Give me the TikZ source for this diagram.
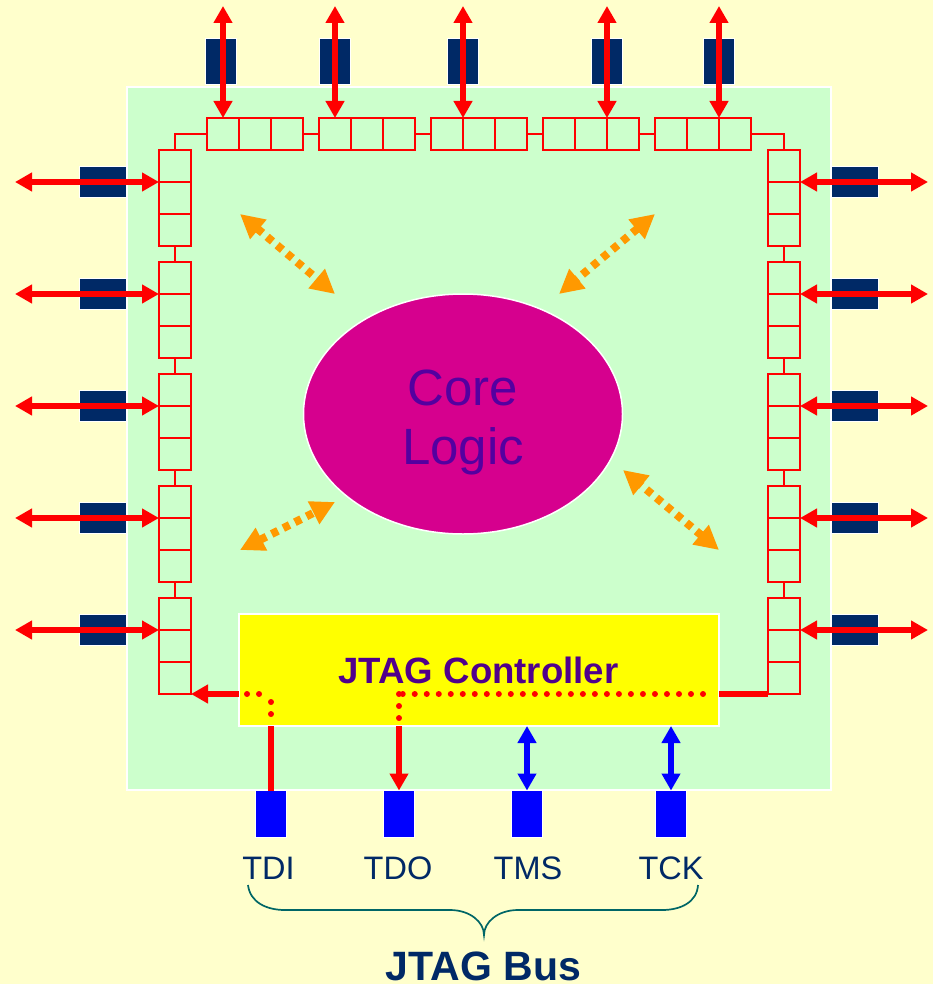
\documentclass[tikz,border=0pt]{standalone}
\usepackage{fontspec}
\setmainfont{Liberation Sans}
\usetikzlibrary{arrows.meta,shapes.geometric}
\definecolor{paleyellow}{RGB}{255,255,204}
\definecolor{palegreen}{RGB}{204,255,204}
\definecolor{padnavy}{RGB}{0,41,102}
\definecolor{padblue}{RGB}{0,0,255}
\definecolor{ctrlyellow}{RGB}{255,255,0}
\definecolor{corepink}{RGB}{214,0,142}
\definecolor{corepurple}{RGB}{84,0,160}
\definecolor{ctrlpurple}{RGB}{80,0,140}
\definecolor{dirorange}{RGB}{255,153,0}
\definecolor{braceteal}{RGB}{0,102,102}
\definecolor{wirered}{RGB}{255,0,0}
\tikzset{
  cell/.style={draw=wirered,line width=1.7pt,minimum width=#1,minimum height=32pt,inner sep=0pt,outer sep=0pt},
  cell/.default=32pt,
  vpad/.style={draw=white,line width=1pt,fill=padnavy,minimum width=31pt,minimum height=46pt,inner sep=0pt,outer sep=0pt},
  hpad/.style={draw=white,line width=1pt,fill=padnavy,minimum width=47pt,minimum height=31pt,inner sep=0pt,outer sep=0pt},
  buspad/.style={draw=white,line width=1pt,fill=padblue,minimum width=31pt,minimum height=47pt,inner sep=0pt,outer sep=0pt},
  link/.style={wirered,line width=1.7pt},
  redbi/.style={wirered,line width=6pt,{Triangle[width=18pt,length=17pt]}-{Triangle[width=18pt,length=17pt]}},
  redto/.style={wirered,line width=6pt,-{Triangle[width=18pt,length=17pt]}},
  bluebi/.style={padblue,line width=6pt,{Triangle[width=18pt,length=17pt]}-{Triangle[width=18pt,length=17pt]}},
  orangebi/.style={dirorange,line width=8pt,dash pattern=on 7pt off 6pt,{Triangle[width=24pt,length=24pt]}-{Triangle[width=24pt,length=24pt]}},
  reddots/.style={wirered,line width=6pt,line cap=round,dash pattern=on 0.01pt off 12pt},
  buslabel/.style={text=padnavy,font=\fontsize{32.5}{36}\selectfont,anchor=base,inner sep=0pt}
}
\begin{document}
\begin{tikzpicture}[x=1pt,y=-1pt]
   \useasboundingbox (0,0) rectangle (933,984);
   \fill [paleyellow] (0,0) rectangle (933,984);
   % pads round the chip
   \foreach \n/\x in {1/221,2/335,3/463,4/607,5/719}
     \node [vpad] (top\n) at (\x,62) {};
   \foreach \n/\y in {1/182,2/294,3/406,4/518,5/630} {
     \node [hpad] (lpad\n) at (103,\y) {};
     \node [hpad] (rpad\n) at (855,\y) {};
   }
   \foreach \n/\x in {tdi/271,tdo/399,tms/527,tck/671}
     \node [buspad] (\n) at (\x,814) {};
   % chip
   \draw [white,line width=2pt,fill=palegreen] (127,87) rectangle (831,790);
   % scan cells
   \foreach \n/\x in {1/223,2/335,3/447,4/559,5/671} {
     \node [cell] (t\n a) at (\x,134) {};
     \node [cell] (t\n b) at (\x+32,134) {};
     \node [cell] (t\n c) at (\x+64,134) {};
   }
   \foreach \n/\y in {1/166,2/278,3/390,4/502,5/614} {
     \node [cell] (l\n a) at (175,\y) {};
     \node [cell] (l\n b) at (175,\y+32) {};
     \node [cell] (l\n c) at (175,\y+64) {};
     \node [cell] (r\n a) at (784,\y) {};
     \node [cell] (r\n b) at (784,\y+32) {};
     \node [cell] (r\n c) at (784,\y+64) {};
   }
   \foreach \a/\b in {1/2,2/3,3/4,4/5} {
     \draw [link] (t\a c.east) -- (t\b a.west);
     \draw [link] (l\a c.south) -- (l\b a.north);
     \draw [link] (r\a c.south) -- (r\b a.north);
   }
   \draw [link] (t1a.west) -| (l1a.north);
   \draw [link] (t5c.east) -| (r1a.north);
   % core and controller
   \node [ellipse,draw=white,line width=1.5pt,fill=corepink,minimum width=319pt,minimum height=240pt,
          inner sep=0pt,outer sep=0pt] (core) at (463,414) {};
   \node [align=center,inner sep=0pt,text=corepurple,font=\fontsize{51}{59}\selectfont]
          (corename) at (463,422) {Core\\Logic};
   \node [draw=white,line width=2pt,fill=ctrlyellow,minimum width=480pt,minimum height=112pt,
          inner sep=0pt,outer sep=0pt] (ctrl) at (479,670) {};
   \node [anchor=base,inner sep=0pt,text=ctrlpurple,font=\fontsize{36.6}{40}\selectfont\bfseries]
          (ctrlname) at (478.5,683) {JTAG Controller};
   % pins to cells
   \foreach \n/\c in {1/t1a.north,2/t2a.north,3/t3a.north east,4/t4b.north east,5/t5b.north east} {
     \coordinate (topend\n) at (\c |- 0,6);
     \draw [redbi] (topend\n) -- (\c);
   }
   \foreach \n in {1,...,5} {
     \coordinate (lend\n) at (15,0 |- lpad\n);
     \coordinate (rend\n) at (928,0 |- rpad\n);
     \draw [redbi] (lend\n) -- (l\n a.south west);
     \draw [redbi] (rend\n) -- (r\n a.south east);
   }
   % controller wiring
   \coordinate (scanout) at (ctrl.west |- l5c.south);
   \coordinate (scanin) at (ctrl.east |- r5c.south);
   \coordinate (tdicorner) at (tdi |- scanout);
   \coordinate (tdicross) at (tdi |- ctrl.south);
   \coordinate (tdocorner) at (tdo |- scanout);
   \coordinate (tdocross) at (tdo |- ctrl.south);
   \coordinate (dotsend) at (707,0 |- scanout);
   \draw [redto] (scanout) -- (l5c.south east);
   \draw [wirered,line width=6pt] (scanin) -- (r5c.south west);
   \draw [reddots,dash phase=4pt] (scanout) -- (tdicorner);
   \draw [reddots,dash phase=4pt] (tdicorner) -- (tdicross);
   \draw [reddots,dash phase=8pt] (dotsend) -- (tdocorner);
   \draw [reddots] (tdocorner) -- (tdocross);
   \draw [wirered,line width=6pt] (tdicross) -- (tdi.north);
   \draw [redto] (tdocross) -- (tdo.north);
   \draw [bluebi] (tms |- ctrl.south) -- (tms.north);
   \draw [bluebi] (tck |- ctrl.south) -- (tck.north);
   % core traffic
   \coordinate (nwout) at (240,214);
   \coordinate (nwin) at (335,294);
   \coordinate (neout) at (655,214);
   \coordinate (nein) at (559,294);
   \coordinate (swout) at (240,550);
   \coordinate (swin) at (335,502);
   \coordinate (seout) at (719,550);
   \coordinate (sein) at (623,470);
   \draw [orangebi] (nwout) -- (nwin);
   \draw [orangebi] (neout) -- (nein);
   \draw [orangebi] (swout) -- (swin);
   \draw [orangebi] (seout) -- (sein);
   % bus labels
   \node [buslabel] (tdilabel) at (268.5,879) {TDI};
   \node [buslabel] (tdolabel) at (398,879) {TDO};
   \node [buslabel] (tmslabel) at (528,879) {TMS};
   \node [buslabel] (tcklabel) at (671,879) {TCK};
   \draw [braceteal,line width=1.7pt] (248,885) .. controls (250,902) and (266,910) .. (285,910)
      -- (450,910) .. controls (470,910) and (484,922) .. (484,935)
      .. controls (484,922) and (498,910) .. (518,910)
      -- (662,910) .. controls (681,910) and (697,902) .. (698,885);
   \node [anchor=base,inner sep=0pt,text=padnavy,font=\fontsize{41}{44}\selectfont\bfseries]
          (busname) at (483.5,980.5) {JTAG Bus};
\end{tikzpicture}
\end{document}
